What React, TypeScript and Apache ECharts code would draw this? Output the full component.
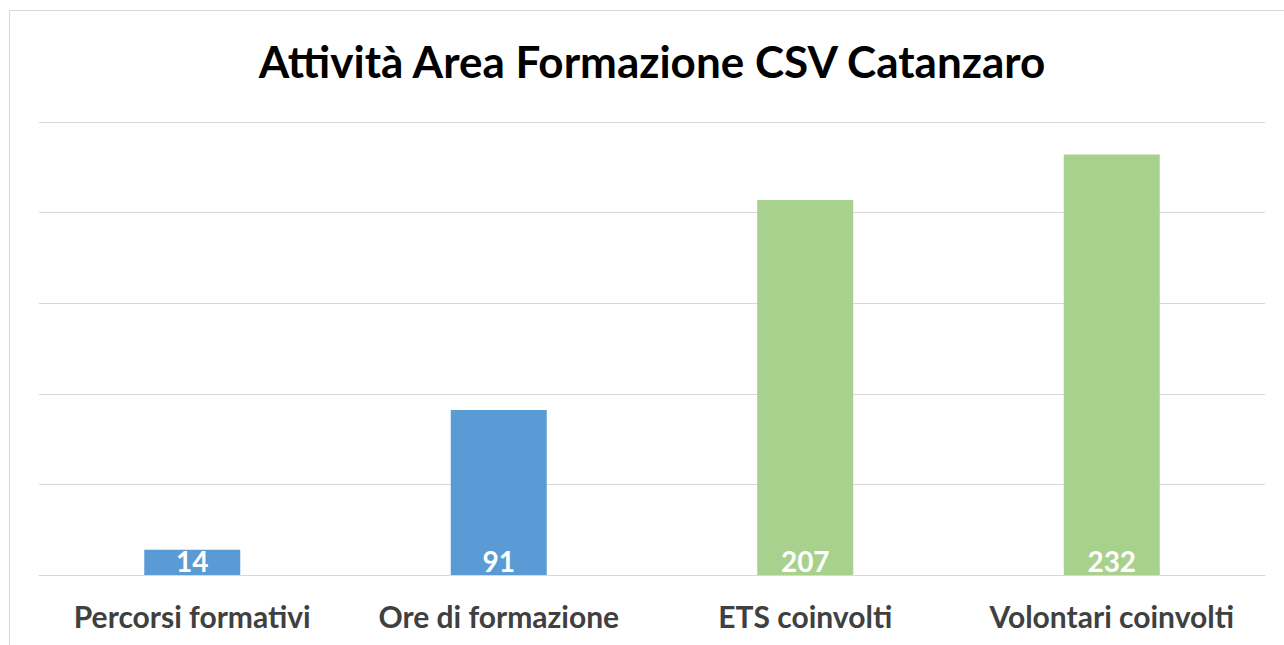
import React, { useEffect, useRef } from "react";
import * as echarts from "echarts";

const categories = ["Percorsi formativi", "Ore di formazione", "ETS coinvolti", "Volontari coinvolti"];
const values = [14, 91, 207, 232];
const barColors = ["#5B9BD5", "#5B9BD5", "#A9D18E", "#A9D18E"];
const titleText = "Attività Area Formazione CSV Catanzaro";

export default function App() {
  const ref = useRef<HTMLDivElement>(null);
  useEffect(() => {
    if (!ref.current) return;
    const chart = echarts.init(ref.current, null, { renderer: "svg" });
    chart.setOption({
      animation: false,
      backgroundColor: "#ffffff",
      graphic: [
        {
          type: "rect",
          shape: { x: 9.5, y: 10.5, width: 1400, height: 800 },
          style: { fill: "none", stroke: "#D9D9D9", lineWidth: 1 },
          silent: true,
        },
        {
          type: "text",
          x: 652,
          y: 61,
          style: {
            text: titleText,
            fontFamily: "Lato",
            fontWeight: "bold",
            fontSize: 44,
            fill: "#000000",
            textAlign: "center",
            textVerticalAlign: "middle",
          },
        },
      ],
      grid: { left: 39, right: 19, top: 122, bottom: 70, containLabel: false },
      xAxis: {
        type: "category",
        data: categories,
        axisLine: { show: true, lineStyle: { color: "#D9D9D9", width: 1 } },
        axisTick: { show: false },
        axisLabel: {
          interval: 0,
          hideOverlap: false,
          color: "#404040",
          fontFamily: "Lato",
          fontWeight: "bold",
          fontSize: 30,
          margin: 26,
        },
      },
      yAxis: {
        type: "value",
        min: 0,
        max: 250,
        interval: 50,
        axisLabel: { show: false },
        axisLine: { show: false },
        axisTick: { show: false },
        splitLine: { show: true, lineStyle: { color: "#D9D9D9", width: 1 } },
      },
      series: [
        {
          type: "bar",
          barWidth: 96,
          data: values.map((v, i) => ({ value: v, itemStyle: { color: barColors[i] } })),
          label: {
            show: true,
            position: "insideBottom",
            distance: 0,
            color: "#ffffff",
            fontFamily: "Lato",
            fontWeight: "bold",
            fontSize: 28,
          },
        },
      ],
    });
    return () => chart.dispose();
  }, []);
  return (
    <div
      ref={ref}
      style={{ position: "absolute", left: 0, top: 0, width: 1284, height: 645 }}
    />
  );
}
